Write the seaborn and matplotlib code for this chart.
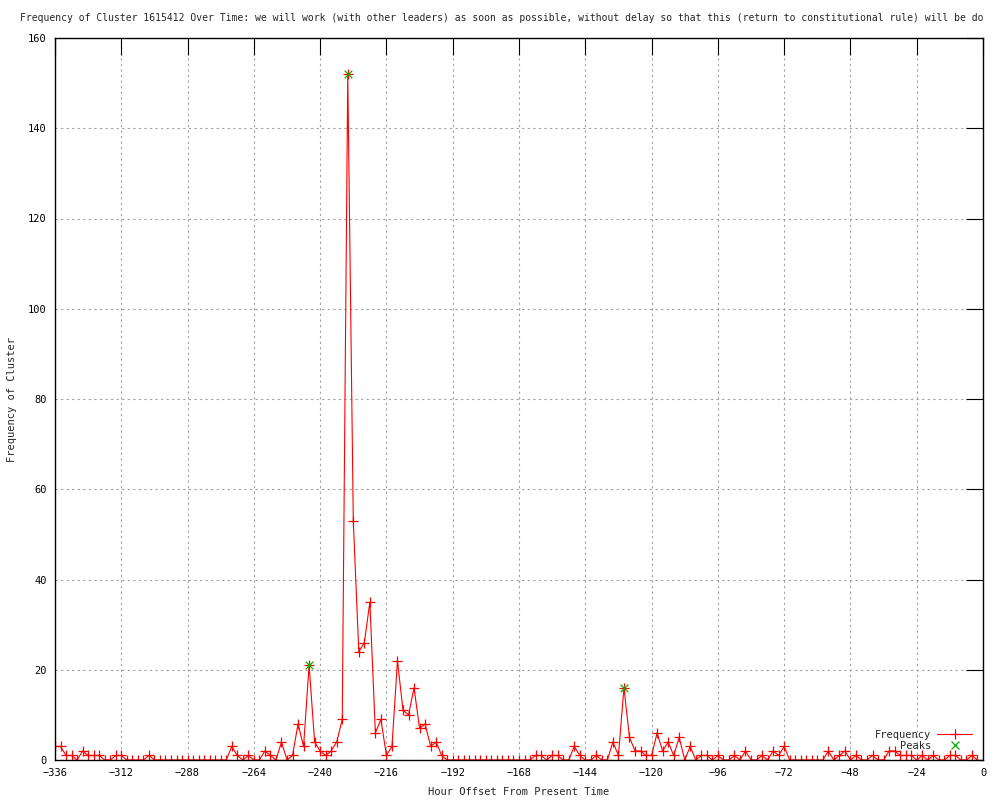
import numpy as np
import pandas as pd
import matplotlib
matplotlib.use("Agg")
import matplotlib.pyplot as plt
from matplotlib.lines import Line2D
import seaborn as sns

# hour offsets (every 2 hours) and cluster counts
hours = list(range(-336, 0, 2))
freq = [3, 3, 1, 1, 0, 2, 1, 1, 1, 0, 0, 1, 1, 0, 0, 0, 0, 1,
        0, 0, 0, 0, 0, 0, 0, 0, 0, 0, 0, 0, 0, 0,
        3, 1, 0, 1, 0, 0, 2, 1, 0, 4, 0, 1, 8, 3, 21, 4, 2, 1, 2, 4, 9,
        152, 53, 24, 26, 35, 6, 9, 1, 3, 22, 11, 10, 16, 7, 8, 3, 4, 1, 0,
        0, 0, 0, 0, 0, 0, 0, 0, 0, 0, 0, 0, 0, 0, 0,
        1, 1, 0, 1, 1, 0, 0, 3, 1, 0, 0, 1, 0, 0, 4, 1, 16, 5, 2, 2, 1, 1,
        6, 2, 4, 1, 5, 0, 3, 0, 1, 1,
        0, 1, 0, 0, 1, 0, 2, 0, 0, 1, 0, 2, 1, 3, 0, 0, 0, 0, 0, 0,
        0, 2, 0, 1, 2, 0, 1, 0, 0, 1, 0, 0, 2, 2, 1, 1, 1, 0, 1, 0,
        1, 0, 0, 1, 1, 0, 0, 1, 0]
peak_hours = [-244, -230, -130]
peak_freq = [21, 152, 16]

x_ticks = list(range(-336, 1, 24))
y_ticks = list(range(0, 161, 20))

# title is cut at the right edge in the original, keep the visible part
title = ("Frequency of Cluster 1615412 Over Time: we will work (with other leaders) "
         "as soon as possible, without delay so that this (return to constitutional "
         "rule) will be do")

df = pd.DataFrame({"hour": hours, "freq": freq})
peaks = pd.DataFrame({"hour": peak_hours, "freq": peak_freq})

sns.set_style("white")
plt.rcParams["font.family"] = ["DejaVu Sans Mono"]
plt.rcParams["font.size"] = 7.5

fig = plt.figure(figsize=(10, 8), dpi=100)
ax = fig.add_axes([0.055, 0.05, 0.928, 0.9025])

sns.lineplot(data=df, x="hour", y="freq", ax=ax, color="red", linewidth=0.8,
             marker="+", markersize=7, markeredgecolor="red", markeredgewidth=0.9)
sns.scatterplot(data=peaks, x="hour", y="freq", ax=ax, color="#00b000",
                marker="x", s=30, linewidth=0.9, zorder=3)

ax.set_xlim(-336, 0)
ax.set_ylim(0, 160)
ax.set_xticks(x_ticks)
ax.set_yticks(y_ticks)
ax.grid(True, color="#a0a0a0", linestyle=(0, (2, 3)), linewidth=0.8)
ax.tick_params(direction="in", length=12, width=0.8, top=True, right=True,
               labelsize=7.5, pad=6, colors="black")
for s in ax.spines.values():
    s.set_color("black")
    s.set_linewidth(1)

ax.set_xlabel("Hour Offset From Present Time", fontsize=7.5, labelpad=6)
ax.set_ylabel("Frequency of Cluster", fontsize=7.5, labelpad=8)

fig.text(0.02, 0.978, title, fontsize=7.0, ha="left", va="center")

handles = [Line2D([], [], color="red", linewidth=0.8, marker="+", markersize=7,
                  markeredgewidth=0.9),
           Line2D([], [], color="#00b000", linestyle="none", marker="x",
                  markersize=6, markeredgewidth=0.9)]
ax.legend(handles, ["Frequency", "    Peaks"], loc="lower right", frameon=False,
          markerfirst=False, fontsize=7.5, handlelength=3.3, handletextpad=0.6,
          labelspacing=0.1, borderaxespad=0.5, bbox_to_anchor=(0.998, 0.0))

fig.savefig("out.png", dpi=100)
